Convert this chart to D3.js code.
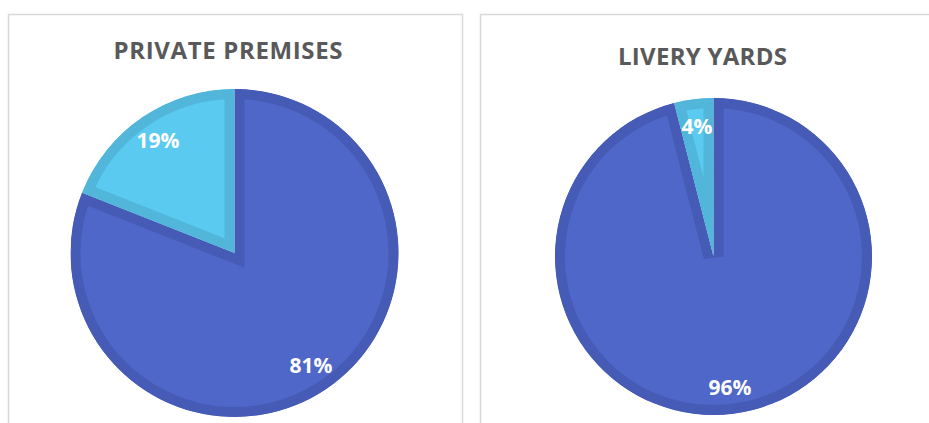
<!DOCTYPE html>
<html>
<head>
<meta charset="utf-8">
<script src="https://cdn.jsdelivr.net/npm/d3@7"></script>
<style>
  body { margin: 0; background: #fff; }
  svg { display: block; }
  .title { font-family: "Open Sans", sans-serif; font-weight: bold; fill: #595959; }
  .label { font-family: "Open Sans", sans-serif; font-weight: bold; fill: #fff; }
</style>
</head>
<body>
<svg id="chart"></svg>
<script>
// chart data
const chartTitles = ['PRIVATE PREMISES', 'LIVERY YARDS'];
const sliceNames = ['Main', 'Other'];
const privateValues = [81, 19];
const liveryValues = [96, 4];

const fills = ['#4e67c8', '#5bcaf0'];
const borders = ['#465bb6', '#52b5da'];

const width = 929, height = 423;
const svg = d3.select('#chart').attr('width', width).attr('height', height);

// layout of each panel (positions live here, not in the data)
const panels = [
    { title: chartTitles[0], values: privateValues, x: 8, w: 454, titleX: 228, titleY: 59, titleW: 229, cx: 234.5, cy: 253, r: 164 },
    { title: chartTitles[1], values: liveryValues, x: 480, w: 470, titleX: 702.5, titleY: 65, titleW: 169, cx: 713.5, cy: 256.5, r: 158.5 }
];

const borderWidth = 10;
const pie = d3.pie().sort(null).value(d => d.value).startAngle(0).endAngle(2 * Math.PI);
const defs = svg.append('defs');

panels.forEach((p, pi) => {
    // panel frame
    svg.append('rect')
        .attr('x', p.x + 0.5)
        .attr('y', 14.5)
        .attr('width', p.w)
        .attr('height', 440)
        .attr('fill', 'none')
        .attr('stroke', '#d9d9d9')
        .attr('stroke-width', 1.5);

    const title = svg.append('text')
        .attr('class', 'title')
        .attr('x', p.titleX)
        .attr('y', p.titleY)
        .attr('text-anchor', 'middle')
        .style('font-size', '24px')
        .text(p.title);
    // spread letters to match the original title width
    const tw = title.node().getComputedTextLength();
    const ls = (p.titleW - tw) / (p.title.length - 1);
    title.style('letter-spacing', ls + 'px').attr('x', p.titleX + ls / 2);

    const arc = d3.arc().innerRadius(0).outerRadius(p.r);
    const labelArc = d3.arc().innerRadius(p.r * 0.83).outerRadius(p.r * 0.83);

    const arcs = pie(p.values.map((v, i) => ({ name: sliceNames[i], value: v })));

    const g = svg.append('g').attr('transform', `translate(${p.cx},${p.cy})`);

    arcs.forEach((d, i) => {
        const id = `clip-${pi}-${i}`;
        // clip path is in the user space of the slice (already translated)
        defs.append('clipPath').attr('id', id)
            .append('path').attr('d', arc(d));
        // slice drawn with an inner border (stroke clipped to the slice)
        g.append('path')
            .attr('clip-path', `url(#${id})`)
            .attr('d', arc(d))
            .attr('fill', fills[i])
            .attr('stroke', borders[i])
            .attr('stroke-width', borderWidth * 2)
            .attr('stroke-linejoin', 'miter');
    });

    g.selectAll('text')
        .data(arcs)
        .join('text')
        .attr('class', 'label')
        .attr('transform', d => `translate(${labelArc.centroid(d)})`)
        .attr('text-anchor', 'middle')
        .attr('dy', '0.36em')
        .style('font-size', '21px')
        .text(d => d.value + '%');
});
</script>
</body>
</html>
